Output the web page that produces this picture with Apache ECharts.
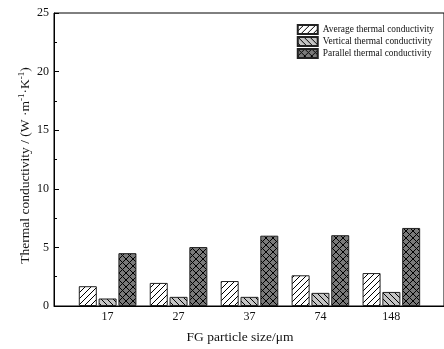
<!DOCTYPE html>
<html><head><meta charset="utf-8">
<script src="https://cdn.jsdelivr.net/npm/echarts@6/dist/echarts.min.js"></script>
<style>html,body{margin:0;padding:0;background:#fff}#c{width:444px;height:349px}</style>
</head><body><div id="c"></div>
<script>
const categories = ['17', '27', '37', '74', '148'];
const seriesNames = ['Average thermal conductivity', 'Vertical thermal conductivity', 'Parallel thermal conductivity'];
const averageValues = [1.69, 1.97, 2.13, 2.62, 2.81];
const verticalValues = [0.64, 0.78, 0.78, 1.12, 1.2];
const parallelValues = [4.51, 5.03, 6.0, 6.04, 6.66];
const yTicks = [0, 5, 10, 15, 20, 25];

function makePattern(bg, kind, size) {
  const cv = document.createElement('canvas');
  cv.width = size; cv.height = size;
  const g = cv.getContext('2d');
  g.fillStyle = bg; g.fillRect(0, 0, size, size);
  g.strokeStyle = '#000'; g.lineWidth = 1;
  const s = size;
  function slash() {
    g.beginPath();
    g.moveTo(0, s); g.lineTo(s, 0);
    g.moveTo(-1, 1); g.lineTo(1, -1);
    g.moveTo(s - 1, s + 1); g.lineTo(s + 1, s - 1);
    g.stroke();
  }
  function back() {
    g.beginPath();
    g.moveTo(0, 0); g.lineTo(s, s);
    g.moveTo(-1, s - 1); g.lineTo(1, s + 1);
    g.moveTo(s - 1, -1); g.lineTo(s + 1, 1);
    g.stroke();
  }
  if (kind === 'slash') slash();
  if (kind === 'back') back();
  if (kind === 'cross') { slash(); back(); }
  return { image: cv, repeat: 'repeat' };
}

const patterns = [
  makePattern('#ffffff', 'slash', 6),
  makePattern('#c4c4c4', 'back', 6),
  makePattern('#7a7a7a', 'cross', 7)
];
const valuesList = [averageValues, verticalValues, parallelValues];

const serif = 'Liberation Serif, Times New Roman, serif';
const chart = echarts.init(document.getElementById('c'), null, { renderer: 'canvas' });
chart.setOption({
  animation: false,
  grid: { left: 54, right: -5, top: 13, bottom: 43, show: true, borderColor: '#000', borderWidth: 1, backgroundColor: 'transparent' },
  legend: {
    orient: 'vertical', right: 5, top: 19, itemWidth: 20, itemHeight: 9, itemGap: 1,
    icon: 'rect',
    textStyle: { fontFamily: serif, fontSize: 9.4, color: '#111' },
    data: seriesNames
  },
  xAxis: {
    type: 'value', min: 0.2443, max: 5.742,
    name: 'FG particle size/μm', nameLocation: 'middle', nameGap: 24, nameMoveOverlap: false,
    nameTextStyle: { fontFamily: serif, fontSize: 13.5, color: '#111', padding: [0, 18, 0, 0] },
    axisLine: { lineStyle: { color: '#000', width: 1 } },
    axisTick: { show: false },
    splitLine: { show: false },
    axisLabel: {
      customValues: categories.map((c, i) => i + 1),
      formatter: v => categories[Math.round(v) - 1] || '',
      fontFamily: serif, fontSize: 12, color: '#111', margin: 5
    }
  },
  yAxis: {
    type: 'value', min: yTicks[0], max: yTicks[yTicks.length - 1], interval: 5,
    name: '{a|Thermal conductivity / (W ·m}{s|-1}{a|·K}{s|-1}{a|)}',
    nameLocation: 'middle', nameGap: 21, nameMoveOverlap: false,
    nameTextStyle: {
      padding: [0, 12, 0, 0],
      rich: {
        a: { fontFamily: serif, fontSize: 13.5, color: '#111', lineHeight: 16 },
        s: { fontFamily: serif, fontSize: 9, color: '#111', verticalAlign: 'top', lineHeight: 16, padding: [0, 0, 6, 0] }
      }
    },
    axisLine: { show: true, lineStyle: { color: '#000', width: 1 } },
    axisTick: { show: true, inside: true, length: 5, lineStyle: { color: '#000' } },
    minorTick: { show: true, splitNumber: 2, length: 3, lineStyle: { color: '#000' } },
    splitLine: { show: false },
    axisLabel: { fontFamily: serif, fontSize: 12, color: '#111', margin: 5 }
  },
  series: seriesNames.map((name, k) => ({
    name: name, type: 'bar',
    barWidth: 18, barGap: '10%',
    data: valuesList[k].map((v, i) => [i + 1, v]),
    itemStyle: { color: patterns[k], borderColor: '#222', borderWidth: 1 }
  }))
});
</script></body></html>
